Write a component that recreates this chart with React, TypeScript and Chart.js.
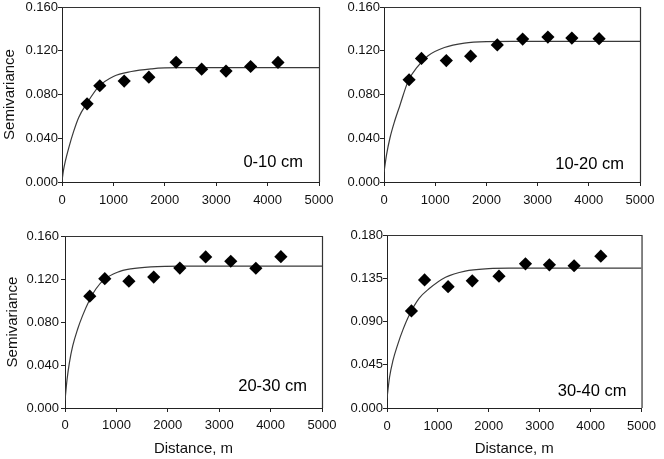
import React, { useEffect, useRef } from 'react';
import { Chart, registerables } from 'chart.js';

Chart.register(...registerables);

// ---------- data ----------
const xTickValues = [0, 1000, 2000, 3000, 4000, 5000];
const xTickLabels = ['0', '1000', '2000', '3000', '4000', '5000'];

const yTickValues04 = [0, 0.04, 0.08, 0.12, 0.16];
const yTickLabels04 = ['0.000', '0.040', '0.080', '0.120', '0.160'];
const yTickValues045 = [0, 0.045, 0.09, 0.135, 0.18];
const yTickLabels045 = ['0.000', '0.045', '0.090', '0.135', '0.180'];

const depthLabels = ['0-10 cm', '10-20 cm', '20-30 cm', '30-40 cm'];

// empirical semivariance (diamonds)
const lags010 = [488, 735, 1210, 1690, 2220, 2717, 3191, 3670, 4202];
const gamma010 = [0.0715, 0.088, 0.0923, 0.0958, 0.1095, 0.1032, 0.1014, 0.1056, 0.1093];

const lags1020 = [490, 732, 1217, 1692, 2213, 2708, 3201, 3669, 4201];
const gamma1020 = [0.0935, 0.113, 0.111, 0.115, 0.1253, 0.1307, 0.1325, 0.1316, 0.131];

const lags2030 = [482, 774, 1243, 1726, 2234, 2737, 3225, 3713, 4200];
const gamma2030 = [0.104, 0.1203, 0.118, 0.1218, 0.1302, 0.1405, 0.1365, 0.13, 0.1408];

const lags3040 = [480, 738, 1200, 1675, 2200, 2720, 3190, 3675, 4200];
const gamma3040 = [0.101, 0.1333, 0.1262, 0.1323, 0.1372, 0.150, 0.149, 0.148, 0.158];

// fitted model curves
const modelX010 = [0, 30, 65, 130, 225, 325, 485, 710, 1000, 1350, 1750, 2000, 2300, 5000];
const modelY010 = [0.001, 0.011, 0.019, 0.031, 0.046, 0.059, 0.072, 0.087, 0.0965, 0.101, 0.1035, 0.1043, 0.1045, 0.1045];

const modelX1020 = [0, 50, 115, 210, 310, 470, 665, 860, 1180, 1570, 2000, 2500, 5000];
const modelY1020 = [0.009, 0.025, 0.04, 0.056, 0.07, 0.092, 0.106, 0.1155, 0.123, 0.127, 0.1283, 0.1285, 0.1285];

const modelX2030 = [0, 40, 85, 150, 245, 340, 470, 600, 760, 1020, 1280, 1670, 2300, 5000];
const modelY2030 = [0.007, 0.0265, 0.042, 0.0577, 0.0733, 0.0857, 0.0998, 0.1107, 0.1194, 0.1263, 0.1294, 0.1313, 0.132, 0.132];

const modelX3040 = [0, 50, 115, 210, 310, 440, 630, 825, 1150, 1535, 2000, 2400, 5000];
const modelY3040 = [0.01, 0.032, 0.049, 0.066, 0.081, 0.097, 0.114, 0.124, 0.136, 0.1425, 0.145, 0.1455, 0.1455];

// ---------- styling ----------
const FONT = "'Liberation Sans', Arial, Helvetica, sans-serif";
const W = 664;
const H = 459;

const framePlugin = {
  id: 'frame',
  afterDraw(chart: any, _args: any, opts: any) {
    const { ctx, chartArea: a } = chart;
    ctx.save();
    ctx.strokeStyle = '#333';
    ctx.lineWidth = 1.2;
    ctx.beginPath();
    ctx.moveTo(a.left, a.top + 0.5);
    ctx.lineTo(a.right + 0.5, a.top + 0.5);
    ctx.lineTo(a.right + 0.5, a.bottom);
    ctx.stroke();
    ctx.font = `16.5px ${FONT}`;
    ctx.fillStyle = '#000';
    ctx.textAlign = 'right';
    ctx.textBaseline = 'middle';
    ctx.fillText(opts.label, a.right - opts.dx, a.bottom - opts.dy);
    ctx.restore();
  },
};

type PanelCfg = {
  lags: number[];
  gamma: number[];
  mx: number[];
  my: number[];
  yVals: number[];
  yLabels: string[];
  label: string;
  area: { left: number; top: number; right: number; bottom: number };
  yTitle: boolean;
  xTitle: boolean;
  yPad: number;
  xPad: number;
  labelDx: number;
  labelDy: number;
  padLeft: number;
};

const panels: PanelCfg[] = [
  {
    lags: lags010, gamma: gamma010, mx: modelX010, my: modelY010,
    yVals: yTickValues04, yLabels: yTickLabels04, label: depthLabels[0],
    area: { left: 62, top: 7, right: 319, bottom: 182 },
    yTitle: true, xTitle: false, yPad: 0, xPad: 7.5, labelDx: 16, labelDy: 20, padLeft: 1,
  },
  {
    lags: lags1020, gamma: gamma1020, mx: modelX1020, my: modelY1020,
    yVals: yTickValues04, yLabels: yTickLabels04, label: depthLabels[1],
    area: { left: 384, top: 7, right: 640, bottom: 182 },
    yTitle: false, xTitle: false, yPad: 0, xPad: 7.5, labelDx: 16, labelDy: 18, padLeft: 323,
  },
  {
    lags: lags2030, gamma: gamma2030, mx: modelX2030, my: modelY2030,
    yVals: yTickValues04, yLabels: yTickLabels04, label: depthLabels[2],
    area: { left: 65, top: 236, right: 322, bottom: 408 },
    yTitle: true, xTitle: true, yPad: 2, xPad: 6.5, labelDx: 15, labelDy: 22, padLeft: 4,
  },
  {
    lags: lags3040, gamma: gamma3040, mx: modelX3040, my: modelY3040,
    yVals: yTickValues045, yLabels: yTickLabels045, label: depthLabels[3],
    area: { left: 387, top: 235, right: 644, bottom: 408 },
    yTitle: false, xTitle: true, yPad: 0, xPad: 8, labelDx: 15, labelDy: 17, padLeft: 326,
  },
];

function Panel({ cfg }: { cfg: PanelCfg }) {
  const ref = useRef<HTMLCanvasElement | null>(null);
  useEffect(() => {
    if (!ref.current) return;
    const a = cfg.area;
    const wy = a.left - cfg.padLeft;
    const hx = cfg.xTitle ? H - 1 - a.bottom : 30;
    const padBottom = H - a.bottom - hx;
    const points = cfg.lags.map((x, i) => ({ x, y: cfg.gamma[i] }));
    const curve = cfg.mx.map((x, i) => ({ x, y: cfg.my[i] }));
    const tickFont = { family: FONT, size: 13, lineHeight: 1 };
    const chart = new Chart(ref.current, {
      type: 'scatter',
      data: {
        datasets: [
          {
            data: points,
            pointStyle: 'rectRot',
            pointRadius: 6.6,
            pointBackgroundColor: '#000',
            pointBorderColor: '#000',
            pointBorderWidth: 0,
            showLine: false,
          } as any,
          {
            data: curve,
            showLine: true,
            pointRadius: 0,
            borderColor: '#3a3a3a',
            borderWidth: 1.2,
            cubicInterpolationMode: 'monotone',
            fill: false,
          } as any,
        ],
      },
      options: {
        responsive: false,
        animation: false,
        events: [],
        layout: {
          padding: { left: cfg.padLeft, top: a.top, right: W - a.right, bottom: padBottom },
        },
        plugins: {
          legend: { display: false },
          tooltip: { enabled: false },
          frame: { label: cfg.label, dx: cfg.labelDx, dy: cfg.labelDy },
        } as any,
        scales: {
          x: {
            type: 'linear',
            min: 0,
            max: 5000,
            afterBuildTicks: (s: any) => { s.ticks = xTickValues.map((v) => ({ value: v })); },
            afterFit: (s: any) => { s.height = hx; },
            ticks: {
              font: tickFont,
              color: '#111',
              padding: cfg.xPad,
              maxRotation: 0,
              autoSkip: false,
              callback: (_v: any, i: number) => xTickLabels[i],
            },
            grid: { drawOnChartArea: false, drawTicks: true, tickLength: 4, color: '#222' },
            border: { color: '#222', width: 1 },
            title: {
              display: cfg.xTitle,
              text: 'Distance, m',
              font: { family: FONT, size: 15 },
              color: '#111',
              padding: 0,
            },
          },
          y: {
            type: 'linear',
            min: cfg.yVals[0],
            max: cfg.yVals[cfg.yVals.length - 1],
            afterBuildTicks: (s: any) => { s.ticks = cfg.yVals.map((v) => ({ value: v })); },
            afterFit: (s: any) => { s.width = wy; },
            ticks: {
              font: tickFont,
              color: '#111',
              padding: cfg.yPad,
              callback: (_v: any, i: number) => cfg.yLabels[i],
            },
            grid: { drawOnChartArea: false, drawTicks: true, tickLength: 4, color: '#222' },
            border: { color: '#222', width: 1 },
            title: {
              display: cfg.yTitle,
              text: 'Semivariance',
              font: { family: FONT, size: 15 },
              color: '#111',
              padding: 0,
            },
          },
        },
      },
      plugins: [framePlugin as any],
    });
    return () => chart.destroy();
  }, [cfg]);
  return (
    <canvas
      ref={ref}
      width={W}
      height={H}
      style={{ position: 'absolute', left: 0, top: 0, width: W, height: H }}
    />
  );
}

export default function App() {
  return (
    <div style={{ position: 'absolute', left: 0, top: 0, width: W, height: H, background: '#fff' }}>
      {panels.map((p, i) => (
        <Panel key={i} cfg={p} />
      ))}
    </div>
  );
}
